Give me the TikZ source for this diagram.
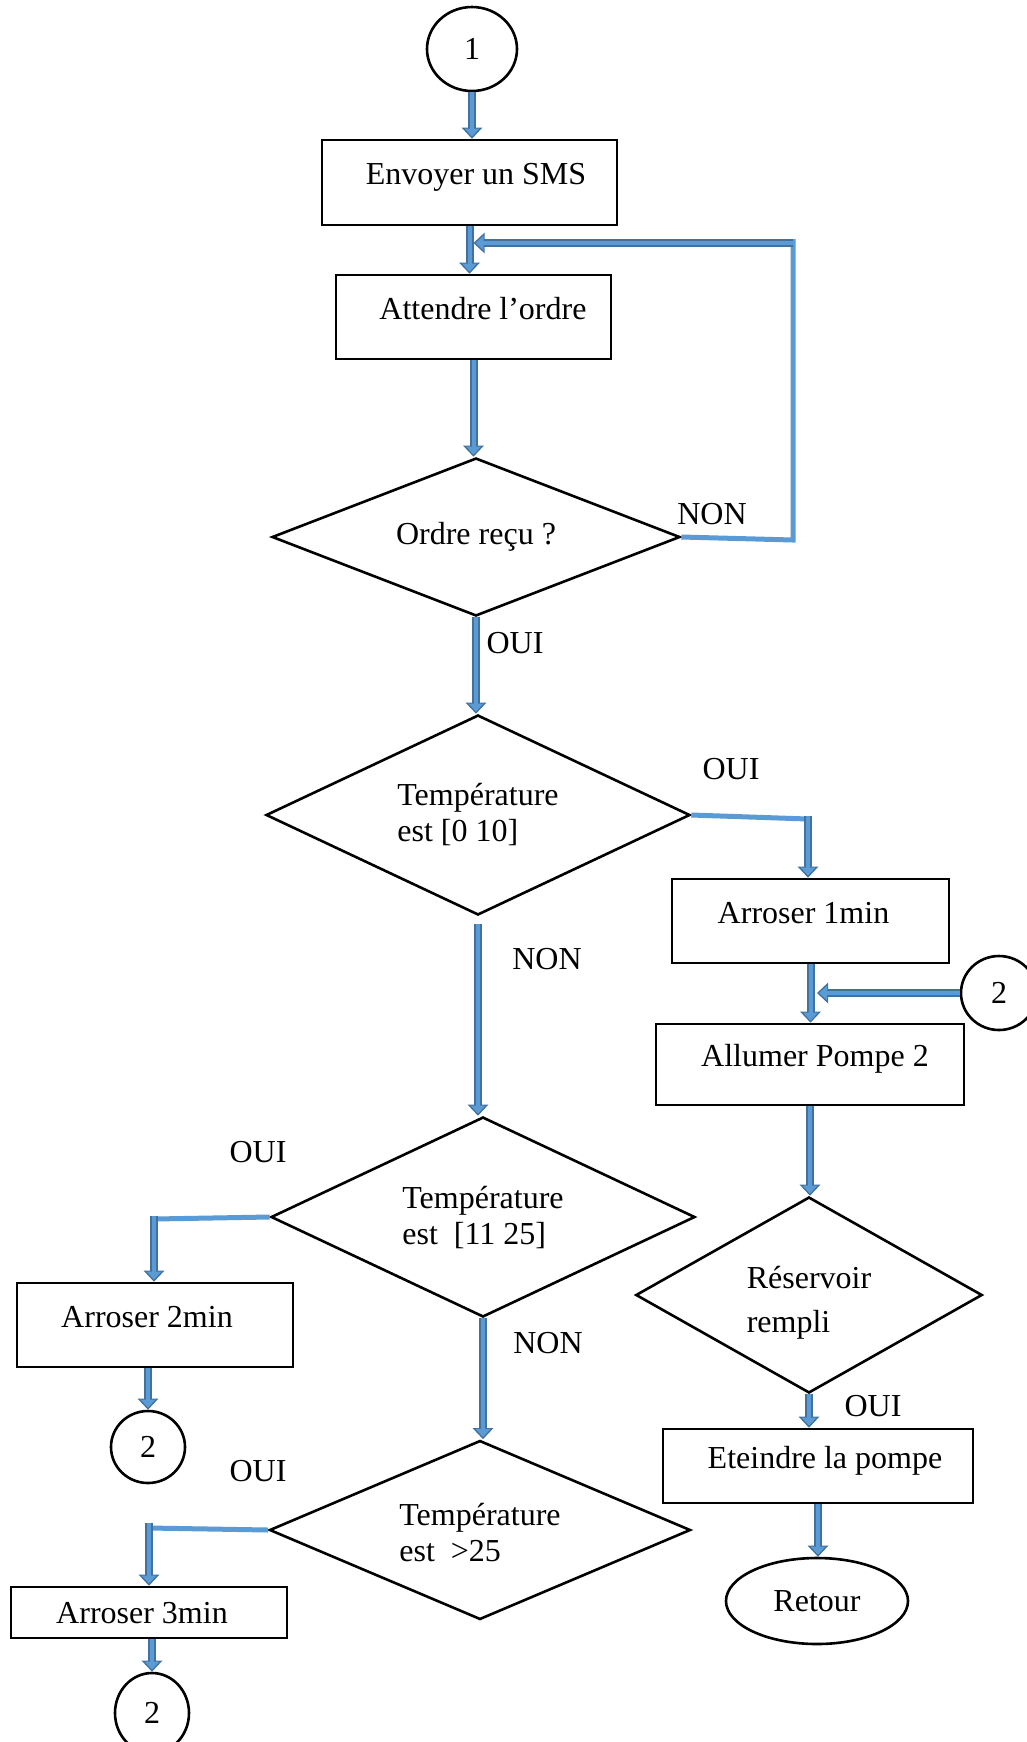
\documentclass[tikz,border=0pt]{standalone}
\usepackage{fontspec}
\setmainfont{Liberation Serif}
\usetikzlibrary{shapes.geometric,arrows.meta,calc}
\definecolor{bdark}{HTML}{41719C}
\definecolor{blight}{HTML}{5B9BD5}
\begin{document}
\begin{tikzpicture}[x=0.5pt,y=-0.5pt,
  font=\fontsize{16pt}{18pt}\selectfont,
  procbox/.style={draw, line width=1.3pt, rectangle, inner sep=0pt, text height=11pt, text depth=9pt},
  dec/.style={draw, line width=1.3pt, diamond, aspect=2.5, inner sep=0pt, align=left},
  conn/.style={draw, line width=1.3pt, ellipse, inner sep=0pt},
  lbl/.style={inner sep=0pt},
  barrow/.style={draw=bdark, line width=4pt, -{Triangle[length=5.5pt,width=10pt]},
    postaction={draw=blight, line width=2pt, shorten >=1pt, -{Triangle[length=4pt,width=7pt]}}},
  bline/.style={draw=blight, line width=2.5pt}]
\clip (0,0) rectangle (1027,1742);
\fill[white] (0,0) rectangle (1027,1742);

% nodes
\node[conn, minimum width=45pt, minimum height=42pt] (c1) at (472,49) {1};
\node[procbox, minimum width=147.5pt, minimum height=42.5pt] (sms) at (469.5,182.5) {\hspace*{6.5pt}Envoyer un SMS};
\node[procbox, minimum width=137.5pt, minimum height=42pt] (att) at (473.5,317) {\hspace*{9.5pt}Attendre l’ordre};
\node[dec, minimum width=204pt, minimum height=79pt] (ordre) at (476,537) {Ordre reçu ?};
\node[dec, minimum width=212pt, minimum height=100pt] (temp1) at (478,815) {Température\\est [0 10]};
\node[procbox, minimum width=138.5pt, minimum height=42pt] (arr1) at (810.5,921) {Arroser 1min\hspace*{7pt}};
\node[conn, minimum width=38pt, minimum height=37pt] (c2a) at (999,993) {2};
\node[procbox, minimum width=154pt, minimum height=40.5pt] (allumer) at (810,1064.5) {\hspace*{5pt}Allumer Pompe 2};
\node[dec, minimum width=173pt, minimum height=98pt] (reserv) at (809,1295) {\rule{0pt}{19pt}Réservoir\\[4pt]rempli};
\node[procbox, minimum width=155pt, minimum height=37pt] (eteindre) at (818,1466) {\hspace*{7pt}Eteindre la pompe};
\node[conn, minimum width=91pt, minimum height=43pt] (retour) at (817,1601) {Retour};
\node[dec, minimum width=212pt, minimum height=100pt] (temp2) at (483,1217) {Température\\est~ [11 25]};
\node[procbox, minimum width=138pt, minimum height=42pt] (arr2) at (155,1325) {Arroser 2min\hspace*{8pt}};
\node[conn, minimum width=37pt, minimum height=36pt] (c2b) at (148,1447) {2};
\node[dec, minimum width=210.5pt, minimum height=89.5pt] (temp3) at (480,1530) {\rule{0pt}{14pt}Température\\est~ >25};
\node[procbox, minimum width=138pt, minimum height=25.5pt, text depth=0pt] (arr3) at (149,1612.5) {Arroser 3min\hspace*{7pt}};
\node[conn, minimum width=37pt, minimum height=40pt] (c2c) at (152,1713) {2};

% labels
\node[lbl] (non1) at (712,514) {NON};
\node[lbl] (oui1) at (515,643) {OUI};
\node[lbl] (oui2) at (731,769) {OUI};
\node[lbl] (non2) at (547,959) {NON};
\node[lbl] (oui3) at (258,1152) {OUI};
\node[lbl] (non3) at (548,1343) {NON};
\node[lbl] (oui4) at (258,1471) {OUI};
\node[lbl] (oui5) at (873,1406) {OUI};

% bend coordinates
\coordinate (fbb) at (793,540);
\coordinate (fbc) at (793,243);
\coordinate (k1) at (808,819);
\coordinate (k3) at (154,1219);
\coordinate (k4) at (149,1528);

% connectors
\draw[barrow] (c1.south) -- (c1.south |- sms.north);
\draw[barrow] (sms.south) -- (sms.south |- att.north);
\draw[bline] (ordre.east) -- (fbb) -- ($(fbc)+(0,-4)$);
\draw[barrow] (fbc) -- ($(fbc -| sms.south)+(4,0)$);
\draw[barrow] (att.south) -- (att.south |- ordre.north);
\draw[barrow] (ordre.south) -- (ordre.south |- temp1.north);
\draw[bline] (temp1.east) -- (k1);
\draw[barrow] ($(k1)+(0,-3)$) -- (k1 |- arr1.north);
\draw[barrow] (arr1.south) -- (arr1.south |- allumer.north);
\draw[barrow] (c2a.west) -- ($(c2a.west -| allumer.north)+(7,0)$);
\draw[barrow] (allumer.south) -- (allumer.south |- reserv.north);
\draw[barrow] (reserv.south) -- (reserv.south |- eteindre.north);
\draw[barrow] (eteindre.south) -- (eteindre.south |- retour.north);
\draw[barrow] ($(temp1.south)+(0,8)$) -- (temp1.south |- temp2.north);
\draw[bline] (temp2.west) -- (k3);
\draw[barrow] ($(k3)+(0,-3)$) -- (k3 |- arr2.north);
\draw[barrow] (arr2.south -| c2b.north) -- (c2b.north);
\draw[barrow] (temp2.south) -- (temp2.south |- temp3.north);
\draw[bline] (temp3.west) -- (k4);
\draw[barrow] ($(k4)+(0,-5)$) -- (k4 |- arr3.north);
\draw[barrow] (arr3.south -| c2c.north) -- (c2c.north);
\end{tikzpicture}
\end{document}
